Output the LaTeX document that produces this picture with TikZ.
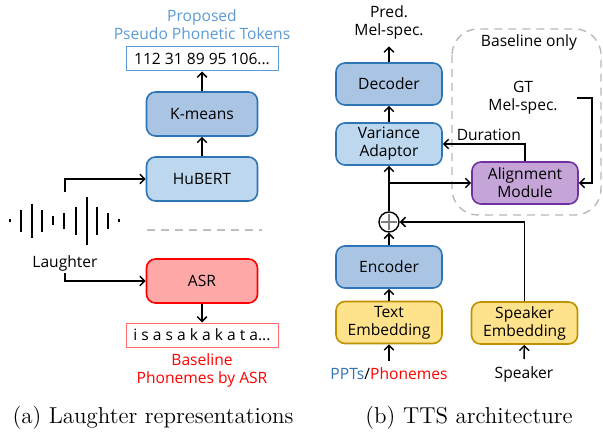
\documentclass[tikz,border=0pt]{standalone}
\usepackage{fontspec}
\newfontfamily\diagfont{Open Sans}
\usetikzlibrary{arrows.meta, positioning}

\definecolor{boxdark}{RGB}{169,197,227}
\definecolor{boxlight}{RGB}{189,215,238}
\definecolor{boxedge}{RGB}{46,117,182}
\definecolor{asrfill}{RGB}{255,168,168}
\definecolor{alnfill}{RGB}{197,165,216}
\definecolor{alnedge}{RGB}{112,48,160}
\definecolor{embfill}{RGB}{255,226,140}
\definecolor{embedge}{RGB}{191,144,0}
\definecolor{pptblue}{RGB}{91,155,213}
\definecolor{tokred}{RGB}{255,110,110}

\begin{document}
\begin{tikzpicture}[x=0.5pt, y=-0.5pt, >={Straight Barb[length=2.4pt, width=4.8pt]},
      every node/.style={font=\diagfont\fontsize{7.8}{9}\selectfont, align=center},
      conn/.style={line width=0.75pt},
      blk/.style={draw=#1, rounded corners=4.5pt, line width=0.8pt,
                  minimum width=55.5pt, minimum height=22pt, inner sep=0pt},
      tblk/.style={blk=#1, minimum width=53pt, minimum height=21pt},
      tok/.style={draw=#1, line width=0.5pt, minimum width=76pt, minimum height=12pt, inner sep=0pt},
      caption/.style={font=\fontsize{11.5}{13}\selectfont}]

    \useasboundingbox (0,0) rectangle (603,432);

    % (a) laughter representations
    \node[text=pptblue] (proposed) at (202,25) {Proposed\\Pseudo Phonetic Tokens};
    \node[tok=pptblue] (tokens) at (202,59) {112 31 89 95 106...};
    \node[blk=boxedge, fill=boxdark]  (kmeans) at (202,114) {K-means};
    \node[blk=boxedge, fill=boxlight] (hubert) at (202,179) {HuBERT};
    \node[blk=red, fill=asrfill]      (asr)    at (202,281) {ASR};
    \node[tok=tokred] (phones) at (202,335) {i s a s a k a k a t a...};
    \node[text=red] (baseline) at (202,370.5) {Baseline\\Phonemes by ASR};

    % waveform bars: x / half height
    \foreach \x/\h in {10/1.5, 21/11, 32/17, 42/11, 53/4.5, 64/8, 76/14, 87/24, 97/14, 108/8, 119/1.5}
        \draw[line width=0.9pt] (\x,221-\h) -- (\x,221+\h);
    \node[inner sep=1pt] (laugh) at (65,263) {Laughter};
    \coordinate (wavetop) at (65,192);

    \draw[conn, ->] (wavetop) |- (hubert.west);
    \draw[conn, ->] (laugh.south) |- (asr.west);
    \draw[conn, ->] (hubert) -- (kmeans);
    \draw[conn, ->] (kmeans) -- (tokens);
    \draw[conn, ->] (asr) -- (phones);
    \draw[gray!50, dashed, line width=0.8pt, dash pattern=on 4pt off 3pt] (147,230) -- (262,230);

    % (b) TTS architecture
    \draw[gray!55, dashed, line width=0.7pt, dash pattern=on 4pt off 3pt, rounded corners=13pt]
        (452,29) rectangle (601,215);
    \node (baseonly) at (529,42) {Baseline only};
    \node (gt) at (523,97.5) {GT\\Mel-spec.};
    \node (pred) at (389,22.5) {Pred.\\Mel-spec.};

    \node[tblk=boxedge, fill=boxdark]  (decoder)  at (389,84)  {Decoder};
    \node[tblk=boxedge, fill=boxlight] (variance) at (389,144) {Variance\\Adaptor};
    \node[tblk=alnedge, fill=alnfill]  (align)    at (525,183) {Alignment\\Module};
    \node[circle, draw, line width=0.7pt, fill=white, minimum size=10pt, inner sep=0pt] (plus) at (389,222) {};
    \draw[gray, line width=0.6pt] ([yshift=-3.8pt]plus.center) -- ([yshift=3.8pt]plus.center)
                                  ([xshift=-3.8pt]plus.center) -- ([xshift=3.8pt]plus.center);
    \node[tblk=boxedge, fill=boxdark] (encoder) at (389,267)   {Encoder};
    \node[tblk=embedge, fill=embfill] (textemb) at (389,322.5) {Text\\Embedding};
    \node[tblk=embedge, fill=embfill] (spkemb)  at (524.5,323) {Speaker\\Embedding};
    \node (inputs)  at (389,374) {\textcolor{boxedge}{PPTs}/\textcolor{red}{Phonemes}};
    \node (speaker) at (524,374) {Speaker};

    \coordinate (split)  at (plus.north |- align.west);
    \coordinate (gtout)  at (577,98);
    \coordinate (gtturn) at (592,98);

    \draw[conn, ->] (inputs) -- (textemb);
    \draw[conn, ->] (speaker) -- (spkemb);
    \draw[conn, ->] (textemb) -- (encoder);
    \draw[conn, ->] (encoder) -- (plus);
    \draw[conn, ->] (plus) -- (variance);
    \draw[conn, ->] (variance) -- (decoder);
    \draw[conn, ->] (decoder) -- (pred);
    \draw[conn, ->] (spkemb.north) |- (plus.east);
    \draw[conn, ->] (split) -- (align.west);
    \draw[conn, ->] (align.north) |- node[pos=0.72, above, inner sep=1.5pt] (duration) {Duration} (variance.east);
    \draw[conn, ->] (gtout) -- (gtturn) |- (align.east);

    % captions
    \node[caption] (capa) at (153,418) {(a) Laughter representations};
    \node[caption] (capb) at (469,418) {(b) TTS architecture};

\end{tikzpicture}
\end{document}
